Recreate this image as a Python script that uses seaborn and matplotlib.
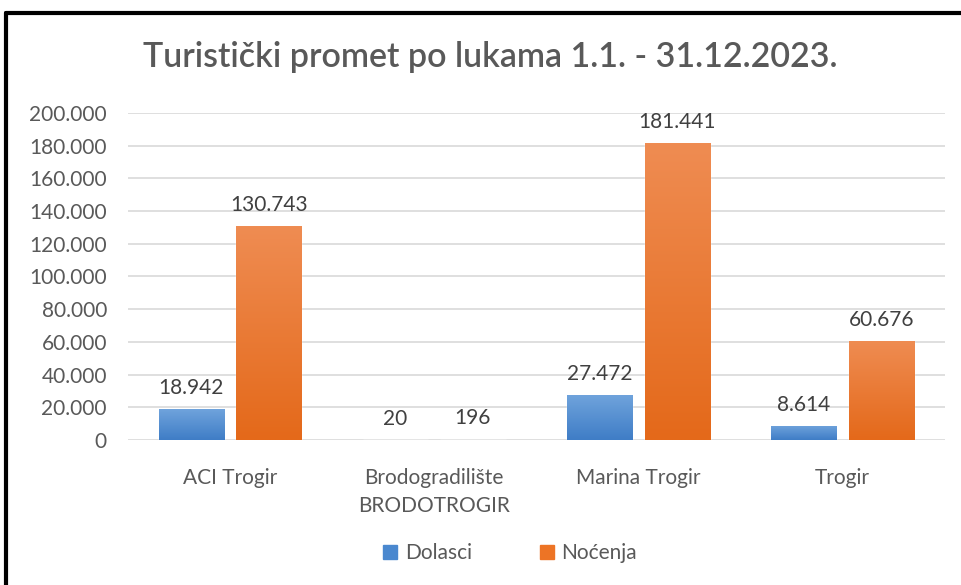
import numpy as np
import pandas as pd
import matplotlib
matplotlib.use("Agg")
import matplotlib.pyplot as plt
import seaborn as sns
from matplotlib.ticker import FuncFormatter
from matplotlib.lines import Line2D

# podaci
luke = ["ACI Trogir", "Brodogradilište\nBRODOTROGIR", "Marina Trogir", "Trogir"]
dolasci = [18942, 20, 27472, 8614]
nocenja = [130743, 196, 181441, 60676]
serije = ["Dolasci", "Noćenja"]
yticks = list(range(0, 200001, 20000))

df = pd.DataFrame({
    "Luka": luke * 2,
    "Serija": [serije[0]] * 4 + [serije[1]] * 4,
    "Vrijednost": dolasci + nocenja,
})

sns.set_style("white")
plt.rcParams["font.family"] = ["Lato", "DejaVu Sans"]

siva = "#595959"
boje = {"Dolasci": "#4a88cf", "Noćenja": "#ed7425"}
gradijent = {"Dolasci": ("#6fa3dc", "#3f7dc6"), "Noćenja": ("#ef8c52", "#e4691a")}

fig = plt.figure(figsize=(9.61, 5.85), dpi=100)
ax = fig.add_axes([0.133, 0.248, 0.85, 0.559])

sns.barplot(data=df, x="Luka", y="Vrijednost", hue="Serija", palette=boje,
            width=0.76, gap=0.16, ax=ax, legend=False)

ax.set_ylim(0, 200000)
ax.set_yticks(yticks)
ax.yaxis.set_major_formatter(FuncFormatter(lambda v, p: f"{int(v):,}".replace(",", ".")))
ax.grid(axis="y", color="#d9d9d9", linewidth=1.2)
ax.set_axisbelow(True)
for s in ax.spines.values():
    s.set_visible(False)
ax.tick_params(axis="both", length=0, labelsize=15, colors=siva)
ax.tick_params(axis="y", pad=15)
ax.tick_params(axis="x", labelsize=15, pad=20)
for t in ax.get_xticklabels():
    t.set_linespacing(1.5)
ax.set_xlabel("")
ax.set_ylabel("")

# gradijent na stupcima
for cont, ser in zip(ax.containers, serije):
    c1, c2 = gradijent[ser]
    cmap = matplotlib.colors.LinearSegmentedColormap.from_list(ser, [c2, c1])
    for bar in cont:
        x0, y0 = bar.get_x(), bar.get_y()
        w, h = bar.get_width(), bar.get_height()
        if h <= 0:
            continue
        grad = np.linspace(0, 1, 100).reshape(-1, 1)
        im = ax.imshow(grad, extent=[x0, x0 + w, y0, y0 + h], origin="lower",
                       cmap=cmap, aspect="auto", zorder=bar.get_zorder() + 0.1)
        im.set_clip_path(bar)
    ax.bar_label(cont, labels=[f"{int(v):,}".replace(",", ".") for v in cont.datavalues],
                 padding=8, fontsize=15, color="#404040")
ax.set_xlim(-0.5, 3.5)
ax.set_aspect("auto")

fig.suptitle("Turistički promet po lukama 1.1. - 31.12.2023.", x=0.51, y=0.93,
             fontsize=24.5, fontweight="semibold", color=siva)

ruke = [Line2D([0], [0], marker="s", linestyle="", markersize=10,
               markerfacecolor=boje[s], markeredgecolor=boje[s]) for s in serije]
fig.legend(ruke, serije, loc="center", bbox_to_anchor=(0.53, 0.055), ncol=2,
           frameon=False, fontsize=15, handlelength=0.8, handletextpad=0.3,
           columnspacing=3.2, labelcolor=siva)

# okvir
fig.add_artist(Line2D([0.006, 0.006], [0.0, 0.978], color="black", linewidth=3,
                      transform=fig.transFigure))
fig.add_artist(Line2D([0.006, 1.0], [0.978, 0.978], color="black", linewidth=3,
                      transform=fig.transFigure))

fig.savefig("out.png", dpi=100, facecolor="white")
